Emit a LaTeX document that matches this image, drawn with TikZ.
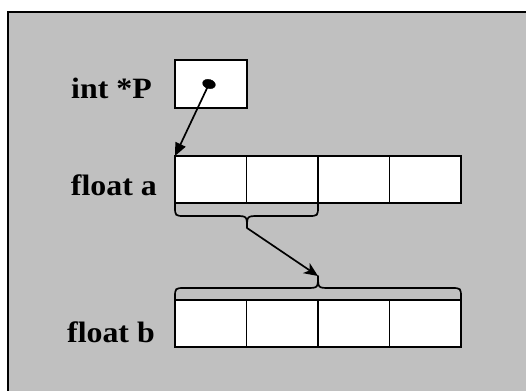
\documentclass[tikz,border=0pt]{standalone}
\usepackage{fontspec}
\setmainfont{Liberation Serif}
\usetikzlibrary{arrows.meta,shapes.geometric}
\definecolor{bggray}{RGB}{192,192,192}
\begin{document}
\begin{tikzpicture}[x=1pt,y=-1pt,
  cell/.style={draw, fill=white, line width=1.7pt, minimum width=71.5pt, minimum height=47pt, inner sep=0pt, outer sep=0pt, anchor=north west},
  lbl/.style={font=\bfseries\fontsize{29.5}{29.5}\selectfont, anchor=base east, xscale=1.08, inner sep=0pt},
  conn/.style={line width=1.7pt},
  brace/.style={line width=1.7pt, line join=round}]
\useasboundingbox (0,0) rectangle (526,390);
\fill[white] (0,0) rectangle (526,390);
\draw[fill=bggray, line width=2pt] (8,12) rectangle (540,400);
% pointer box
\node[cell, minimum width=72pt, minimum height=48pt] (p) at (175,60) {};
\node[draw, fill=black, ellipse, minimum width=13pt, minimum height=9pt, inner sep=0pt, rotate=-15] (dot) at (209,84) {};
% array a
\node[cell] (a1) at (175,156) {};
\node[cell] (a2) at (246.5,156) {};
\node[cell] (a3) at (318,156) {};
\node[cell] (a4) at (389.5,156) {};
% array b
\node[cell] (b1) at (175,300) {};
\node[cell] (b2) at (246.5,300) {};
\node[cell] (b3) at (318,300) {};
\node[cell] (b4) at (389.5,300) {};
% labels
\node[lbl] (lp) at (152,99) {int *P};
\node[lbl] (la) at (157,195) {float a};
\node[lbl] (lb) at (155,342) {float b};
% braces
\coordinate (ta) at (247,228);
\coordinate (tb) at (318,276);
\draw[brace] (a1.south west) -- (175,206) .. controls (175,216) .. (185,216) -- (235,216)
  .. controls (247,216) .. (ta) .. controls (247,216) .. (259,216) -- (308,216)
  .. controls (318,216) .. (318,206) -- (a2.south east);
\draw[brace] (b1.north west) -- (175,298) .. controls (175,288) .. (185,288) -- (306,288)
  .. controls (318,288) .. (tb) .. controls (318,288) .. (330,288) -- (451,288)
  .. controls (461,288) .. (461,298) -- (b4.north east);
% arrows
\draw[conn, -{Triangle[length=13pt,width=11pt]}] (dot.center) -- (a1.north west);
\draw[conn, -{Stealth[length=14pt,width=12pt,inset=4pt]}] (ta) -- (tb);
\end{tikzpicture}
\end{document}
